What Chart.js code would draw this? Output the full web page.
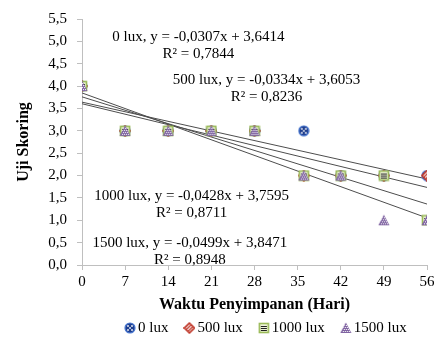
<!DOCTYPE html>
<html>
<head>
<meta charset="utf-8">
<script src="https://cdn.jsdelivr.net/npm/chart.js@4.4.0/dist/chart.umd.min.js"></script>
<style>
  html, body { margin: 0; padding: 0; background: #ffffff; }
  #wrap { width: 441px; height: 341px; }
</style>
</head>
<body>
<div id="wrap"><canvas id="chart" width="441" height="341"></canvas></div>
<script>
// Data
const days = [0, 7, 14, 21, 28, 36, 42, 49, 56];
const lux0 = [4, 3, 3, 3, 3, 3, 2, 2, 2];
const lux500 = [4, 3, 3, 3, 3, 2, 2, 2, 2];
const lux1000 = [4, 3, 3, 3, 3, 2, 2, 2, 1];
const lux1500 = [4, 3, 3, 3, 3, 2, 2, 1, 1];
const seriesNames = ['0 lux', '500 lux', '1000 lux', '1500 lux'];
const slopes = [-0.0307, -0.0334, -0.0428, -0.0499];
const intercepts = [3.6414, 3.6053, 3.7595, 3.8471];
const rSquared = ['0,7844', '0,8236', '0,8711', '0,8948'];
const xTicks = [0, 7, 14, 21, 28, 35, 42, 49, 56];
// where each equation label sits, in data units (x centre, y of first line)
const labelX = [18.9, 29.95, 17.8, 17.5];
const labelY = [5.09, 4.13, 1.54, 0.48];

const FONT = "'Liberation Serif', 'Times New Roman', serif";

const comma = (v, d) => v.toFixed(d).replace('.', ',');

// Marker images
function makeMarker(kind) {
    const c = document.createElement('canvas');
    c.width = 12; c.height = 12;
    const g = c.getContext('2d');
    if (kind === 'circle') {
        g.beginPath(); g.arc(6, 6, 5, 0, Math.PI * 2);
        g.fillStyle = '#1f3f8f'; g.fill();
        g.lineWidth = 1.2; g.strokeStyle = '#4a78d0'; g.stroke();
        g.fillStyle = '#ffffff';
        [[4, 4], [8, 4], [4, 8], [8, 8], [6, 6]].forEach(p => {
            g.fillRect(p[0] - 0.8, p[1] - 0.8, 1.6, 1.6);
        });
    } else if (kind === 'diamond') {
        g.beginPath();
        g.moveTo(6, 1); g.lineTo(11, 6); g.lineTo(6, 11); g.lineTo(1, 6); g.closePath();
        g.fillStyle = '#ffffff'; g.fill();
        g.save(); g.clip();
        g.strokeStyle = '#c0392b'; g.lineWidth = 1.3;
        for (let k = -12; k < 24; k += 3.5) {
            g.beginPath(); g.moveTo(k, 12); g.lineTo(k + 12, 0); g.stroke();
        }
        g.restore();
        g.beginPath();
        g.moveTo(6, 1); g.lineTo(11, 6); g.lineTo(6, 11); g.lineTo(1, 6); g.closePath();
        g.strokeStyle = '#c0392b'; g.lineWidth = 1.6; g.stroke();
    } else if (kind === 'square') {
        g.fillStyle = '#eef3d8'; g.fillRect(1, 1, 10, 10);
        g.strokeStyle = '#9bbb59'; g.lineWidth = 1.6; g.strokeRect(1.5, 1.5, 9, 9);
        g.fillStyle = '#222222';
        g.fillRect(3, 4, 6, 1); g.fillRect(3, 6, 6, 1); g.fillRect(3, 8, 6, 1);
    } else {
        g.beginPath();
        g.moveTo(6, 0.5); g.lineTo(11.5, 11); g.lineTo(0.5, 11); g.closePath();
        g.fillStyle = '#8064a2'; g.fill();
        g.save(); g.clip();
        g.fillStyle = '#ffffff';
        for (let yy = 3; yy < 11; yy += 2) {
            for (let xx = (yy % 4 === 1 ? 3 : 4); xx < 11; xx += 2) {
                g.fillRect(xx, yy, 1, 1);
            }
        }
        g.restore();
    }
    return c;
}

const markers = [makeMarker('circle'), makeMarker('diamond'), makeMarker('square'), makeMarker('triangle')];
const seriesValues = [lux0, lux500, lux1000, lux1500];

const pointSets = seriesValues.map((vals, i) => ({
    type: 'scatter',
    label: seriesNames[i],
    data: days.map((d, k) => ({ x: d, y: vals[k] })),
    pointStyle: markers[i],
    pointRadius: 6,
    order: 4 - i
}));

const trendSets = slopes.map((m, i) => ({
    type: 'line',
    label: 'trend ' + seriesNames[i],
    data: [{ x: days[0], y: intercepts[i] + m * days[0] }, { x: days[days.length - 1], y: intercepts[i] + m * days[days.length - 1] }],
    borderColor: '#4d4d4d',
    borderWidth: 1,
    pointRadius: 0,
    fill: false,
    order: 10
}));

const annotations = {
    id: 'annotations',
    afterDraw(chart) {
        const ctx = chart.ctx;
        const xs = chart.scales.x, ys = chart.scales.y;
        ctx.save();
        ctx.fillStyle = '#000000';
        ctx.font = '15px ' + FONT;
        ctx.textAlign = 'center';
        ctx.textBaseline = 'middle';
        slopes.forEach((m, i) => {
            const cx = xs.getPixelForValue(labelX[i]);
            const cy = ys.getPixelForValue(labelY[i]);
            ctx.fillText(`${seriesNames[i]}, y = ${comma(m, 4)}x + ${comma(intercepts[i], 4)}`, cx, cy);
            ctx.fillText(`R² = ${rSquared[i]}`, cx, cy + 17);
        });

        // legend
        const legendY = 328;
        let lx = 130;
        ctx.textAlign = 'left';
        seriesNames.forEach((name, i) => {
            ctx.drawImage(markers[i], lx - 6, legendY - 6);
            ctx.fillText(name, lx + 8, legendY);
            lx += 8 + ctx.measureText(name).width + 21;
        });
        ctx.restore();
    }
};

new Chart(document.getElementById('chart'), {
    type: 'scatter',
    data: { datasets: [...trendSets, ...pointSets] },
    options: {
        responsive: false,
        animation: false,
        devicePixelRatio: 1,
        layout: { padding: { left: 0, right: 14, top: 12, bottom: 27 } },
        plugins: {
            legend: { display: false },
            tooltip: { enabled: false }
        },
        scales: {
            x: {
                type: 'linear',
                min: 0,
                max: 56,
                afterFit: s => { s.height = 49; },
                afterBuildTicks: s => { s.ticks = xTicks.map(v => ({ value: v })); },
                ticks: {
                    color: '#000000',
                    font: { family: FONT, size: 15 },
                    padding: 3,
                    maxRotation: 0,
                    callback: v => String(v)
                },
                grid: { drawOnChartArea: false, drawTicks: true, tickLength: 5, color: '#bfbfbf' },
                border: { color: '#bfbfbf' },
                title: {
                    display: true,
                    text: 'Waktu Penyimpanan (Hari)',
                    color: '#000000',
                    font: { family: FONT, size: 16, weight: 'bold' },
                    padding: 0
                }
            },
            y: {
                type: 'linear',
                min: 0,
                max: 5.5,
                afterFit: s => { s.width = 82; },
                ticks: {
                    stepSize: 0.5,
                    color: '#000000',
                    font: { family: FONT, size: 15 },
                    padding: 10,
                    callback: v => comma(v, 1)
                },
                grid: { drawOnChartArea: false, drawTicks: true, tickLength: 5, color: '#bfbfbf' },
                border: { color: '#bfbfbf' },
                title: {
                    display: true,
                    text: 'Uji Skoring',
                    color: '#000000',
                    font: { family: FONT, size: 16, weight: 'bold' },
                    padding: { top: 14, bottom: 0 }
                }
            }
        }
    },
    plugins: [annotations]
});
</script>
</body>
</html>
